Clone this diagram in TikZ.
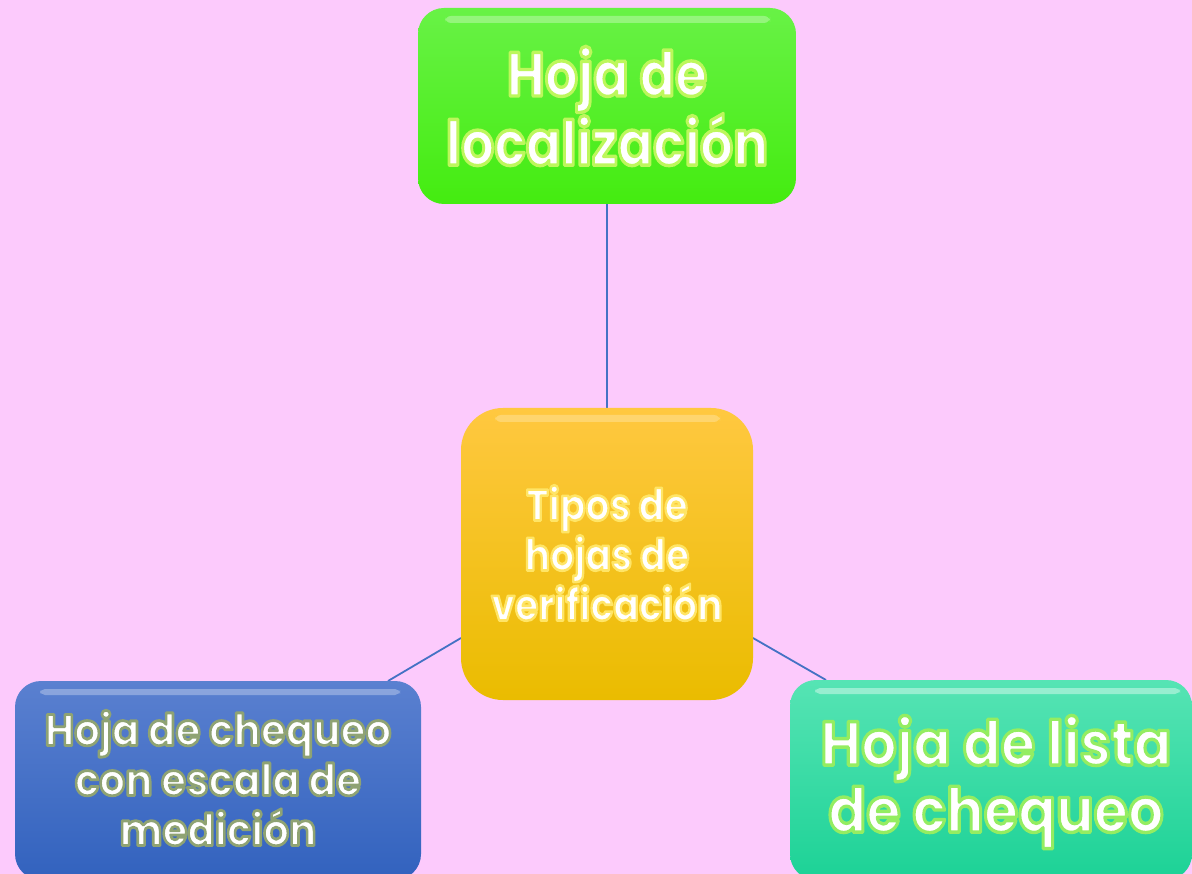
\documentclass[tikz,border=0pt]{standalone}
\usepackage{fontspec}
\setmainfont{Poppins}[UprightFont={* Bold}]
\definecolor{bgpink}{RGB}{252,202,252}
\definecolor{linkblue}{RGB}{68,114,196}
\definecolor{gtop}{RGB}{104,242,70}
\definecolor{gbot}{RGB}{68,236,16}
\definecolor{otop}{RGB}{255,200,64}
\definecolor{obot}{RGB}{234,188,0}
\definecolor{btop}{RGB}{90,128,208}
\definecolor{bbot}{RGB}{50,98,190}
\definecolor{ttop}{RGB}{86,228,180}
\definecolor{tbot}{RGB}{28,210,150}
\newcommand{\glowon}[2]{\special{pdf:literal direct 2 Tr #2 w #1 RG 1 j}}
\newcommand{\glowoff}{\special{pdf:literal direct 0 Tr}}
\tikzset{
  boxnode/.style={draw=none, align=center, text=white, inner sep=0pt, transform shape},
  link/.style={draw=linkblue, line width=1.8pt},
}
\begin{document}
\begin{tikzpicture}[x=1pt,y=-1pt]
\useasboundingbox (0,0) rectangle (1192,874);
\fill[bgpink] (0,0) rectangle (1192,874);
% connectors
\coordinate (gT) at (607,204);
\coordinate (oT) at (607,408);
\coordinate (oL) at (461,638);
\coordinate (bR) at (388,681);
\coordinate (oR) at (753,638);
\coordinate (tL) at (826,680);
\draw[link] (gT) -- (oT);
\draw[link] (oL) -- (bR);
\draw[link] (oR) -- (tL);
% green box
\shade[rounded corners=26pt, top color=gtop, bottom color=gbot] (418,8) rectangle (796,204);
\fill[white, opacity=0.3, rounded corners=6pt] (445,16) rectangle (770,23);
% orange box
\shade[rounded corners=42pt, top color=otop, bottom color=obot] (461,408) rectangle (753,700);
\fill[white, opacity=0.25, rounded corners=6pt] (495,415) rectangle (720,422);
% blue box
\shade[rounded corners=26pt, top color=btop, bottom color=bbot] (15,681) rectangle (421,880);
\fill[white, opacity=0.3, rounded corners=5pt] (40,689) rectangle (400,695);
% teal box
\shade[rounded corners=26pt, top color=ttop, bottom color=tbot] (790,680) rectangle (1192,880);
\fill[white, opacity=0.4, rounded corners=5pt] (815,688) rectangle (1180,694);
% texts
\node[boxnode, xscale=0.84, font=\fontsize{62}{66}\selectfont] (g) at (607,106)
  {\glowon{0.74 0.97 0.36}{3.4}Hoja de\\localización\glowoff};
\node[boxnode, xscale=0.86, font=\fontsize{44}{50}\selectfont] (o) at (607,553)
  {\glowon{1 0.9 0.4}{2.6}Tipos de\\hojas de\\verificación\glowoff};
\node[boxnode, xscale=0.92, font=\fontsize{44}{50}\selectfont] (b) at (218,778)
  {\glowon{0.56 0.64 0.45}{2.8}Hoja de chequeo\\con escala de\\medición\glowoff};
\node[boxnode, xscale=0.9, font=\fontsize{62}{67}\selectfont] (t) at (996,782)
  {\glowon{0.58 0.93 0.38}{3.4}Hoja de lista\\de chequeo\glowoff};
\end{tikzpicture}
\end{document}
